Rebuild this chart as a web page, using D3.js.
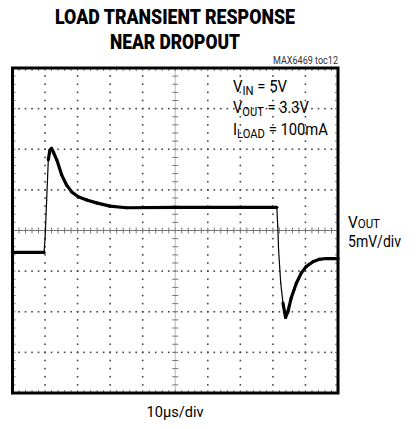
<!DOCTYPE html>
<html>
<head>
<meta charset="utf-8">
<script src="https://cdn.jsdelivr.net/npm/d3@7"></script>
<style>
  body { margin: 0; background: #fff; }
  text { font-family: Roboto, "Liberation Sans", sans-serif; }
</style>
</head>
<body>
<div id="chart"></div>
<script>
// scope trace, time in us, Vout deviation in mV (5mV/div)
const timeUs = [0, 9.7, 10.0, 10.5, 11.0, 11.5, 12.0, 12.6, 13.6, 15.1, 16.6, 18.2, 20.2, 22.8, 25.8, 29.9, 35.0, 50, 81.2,
    81.5, 81.75, 82.4, 83.1, 83.9, 84.6, 85.6, 87.2, 88.7, 90.2, 92.3, 94.3, 96.4, 100];
const voutMv = [-2.7, -2.7, -1.0, 3.75, 8.7, 9.9, 10.1, 9.6, 8.7, 6.85, 5.6, 4.75, 4.15, 3.75, 3.4, 3.0, 2.8, 2.85, 2.85,
    0.5, -2.4, -6.45, -8.95, -10.7, -10.0, -8.35, -6.5, -5.25, -4.45, -3.85, -3.55, -3.45, -3.45];

const titleLines = ["LOAD TRANSIENT RESPONSE", "NEAR DROPOUT"];
const conditions = [["V", "IN", " = 5V"], ["V", "OUT", " = 3.3V"], ["I", "LOAD", " = 100mA"]];
const xDomain = [0, 100];   // 10us/div
const yDomain = [-20, 20];  // 5mV/div

const W = 416, H = 429;
const svg = d3.select("#chart").append("svg").attr("width", W).attr("height", H);

const x = d3.scaleLinear().domain(xDomain).range([12.5, 338]);
const y = d3.scaleLinear().domain(yDomain).range([393, 68]);

const xMajor = d3.range(0, 101, 10);
const yMajor = d3.range(-20, 21, 5);
const xMinor = d3.range(0, 100.01, 2);
const yMinor = d3.range(-20, 20.01, 1);

const grid = svg.append("g");

// dotted vertical grid lines
xMajor.filter(d => d > 0 && d < 100 && d !== 50).forEach(xv => {
    grid.selectAll(null).data(yMinor).join("rect")
        .attr("x", x(xv) - 0.8).attr("y", d => y(d) - 0.8)
        .attr("width", 1.6).attr("height", 1.6).attr("fill", "#444");
});
// dotted horizontal grid lines
yMajor.filter(d => d > -20 && d < 20 && d !== 0).forEach(yv => {
    grid.selectAll(null).data(xMinor).join("rect")
        .attr("x", d => x(d) - 0.8).attr("y", y(yv) - 0.8)
        .attr("width", 1.6).attr("height", 1.6).attr("fill", "#444");
});

// center crosshair with minor ticks
grid.append("line").attr("x1", x(0)).attr("x2", x(100)).attr("y1", y(0)).attr("y2", y(0))
    .attr("stroke", "#777").attr("stroke-width", 1);
grid.selectAll(null).data(xMinor).join("line")
    .attr("x1", d => x(d)).attr("x2", d => x(d))
    .attr("y1", y(0) - 3).attr("y2", y(0) + 3)
    .attr("stroke", "#777").attr("stroke-width", 1);
grid.append("line").attr("x1", x(50)).attr("x2", x(50)).attr("y1", y(20)).attr("y2", y(-20))
    .attr("stroke", "#aaa").attr("stroke-width", 0.8);
grid.selectAll(null).data(yMinor).join("line")
    .attr("x1", x(50) - 3).attr("x2", x(50) + 3)
    .attr("y1", d => y(d)).attr("y2", d => y(d))
    .attr("stroke", "#777").attr("stroke-width", 1);

// small ticks along the frame
grid.selectAll(null).data(xMinor).join("line")
    .attr("x1", d => x(d)).attr("x2", d => x(d))
    .attr("y1", y(-20) - 3).attr("y2", y(-20))
    .attr("stroke", "#777").attr("stroke-width", 1);
grid.selectAll(null).data(xMinor).join("line")
    .attr("x1", d => x(d)).attr("x2", d => x(d))
    .attr("y1", y(20)).attr("y2", y(20) + 3)
    .attr("stroke", "#777").attr("stroke-width", 1);
grid.selectAll(null).data(yMinor).join("line")
    .attr("x1", x(100) - 3).attr("x2", x(100))
    .attr("y1", d => y(d)).attr("y2", d => y(d))
    .attr("stroke", "#777").attr("stroke-width", 1);
grid.selectAll(null).data(yMinor).join("line")
    .attr("x1", x(0)).attr("x2", x(0) + 3)
    .attr("y1", d => y(d)).attr("y2", d => y(d))
    .attr("stroke", "#777").attr("stroke-width", 1);

// trace: thin on steep edges, thick where it is flat (scope persistence)
const pts = timeUs.map((t, i) => ({ t: t, v: voutMv[i] }));
const segs = d3.pairs(pts);
svg.append("g").selectAll("line").data(segs).join("line")
    .attr("x1", d => x(d[0].t)).attr("y1", d => y(d[0].v))
    .attr("x2", d => x(d[1].t)).attr("y2", d => y(d[1].v))
    .attr("stroke", "#000")
    .attr("stroke-linecap", "round")
    .attr("stroke-width", d => {
        const slope = Math.abs((y(d[1].v) - y(d[0].v)) / (x(d[1].t) - x(d[0].t)));
        return slope > 6 ? 1.2 : 3.2;
    });

// frame
svg.append("rect")
    .attr("x", x(0)).attr("y", y(20))
    .attr("width", x(100) - x(0)).attr("height", y(-20) - y(20))
    .attr("fill", "none").attr("stroke", "#000").attr("stroke-width", 3);

// title
svg.selectAll(".title").data(titleLines).join("text")
    .attr("class", "title")
    .attr("x", 175).attr("y", (d, i) => 24 + i * 24.5)
    .attr("text-anchor", "middle")
    .attr("font-size", 20).attr("font-weight", 900)
    .attr("textLength", (d, i) => i === 0 ? 240 : 130)
    .attr("lengthAdjust", "spacingAndGlyphs")
    .text(d => d);

svg.append("text").attr("x", 338).attr("y", 64).attr("text-anchor", "end")
    .attr("font-size", 10.5).attr("fill", "#333")
    .attr("textLength", 65).attr("lengthAdjust", "spacingAndGlyphs")
    .text("MAX6469 toc12");

// operating conditions
const condWidths = [54, 76, 95];
conditions.forEach((c, i) => {
    const t = svg.append("text").attr("x", 233).attr("y", 91.7 + i * 21.7)
        .attr("font-size", 16.5)
        .attr("textLength", condWidths[i]).attr("lengthAdjust", "spacingAndGlyphs");
    t.append("tspan").text(c[0]);
    t.append("tspan").attr("font-size", 12.5).attr("dy", 3).text(c[1]);
    t.append("tspan").attr("dy", -3).text(c[2]);
});

// channel label
const ch = svg.append("text").attr("x", 348).attr("y", 228).attr("font-size", 16)
    .attr("textLength", 32).attr("lengthAdjust", "spacingAndGlyphs");
ch.append("tspan").text("V");
ch.append("tspan").attr("font-size", 12).text("OUT");
svg.append("text").attr("x", 348).attr("y", 247).attr("font-size", 16)
    .attr("textLength", 53).attr("lengthAdjust", "spacingAndGlyphs")
    .text("5mV/div");

svg.append("text").attr("x", 175).attr("y", 417).attr("text-anchor", "middle")
    .attr("font-size", 15)
    .attr("textLength", 57).attr("lengthAdjust", "spacingAndGlyphs")
    .text("10\u00b5s/div");
</script>
</body>
</html>
